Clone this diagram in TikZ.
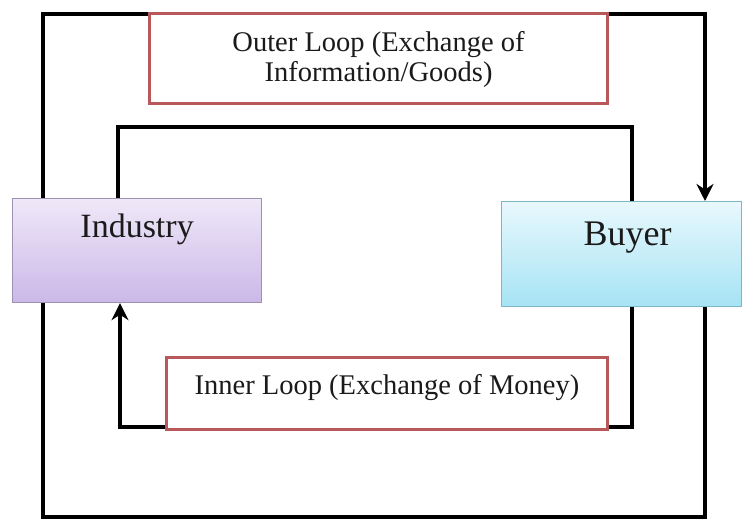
\documentclass[tikz,border=0pt]{standalone}
\usepackage{fontspec}
\setmainfont{Liberation Serif}
\usetikzlibrary{arrows.meta}
\definecolor{redline}{HTML}{B9585A}
\definecolor{txt}{HTML}{1A1A1A}
\definecolor{indtop}{HTML}{EFE8F8}
\definecolor{indbot}{HTML}{CBB8E8}
\definecolor{indedge}{HTML}{9C92B4}
\definecolor{buytop}{HTML}{E8F8FD}
\definecolor{buybot}{HTML}{A6E3F4}
\definecolor{buyedge}{HTML}{7DB7C6}
\tikzset{
  conn/.style={line width=4pt, black, line join=miter},
  tip/.style={-{Stealth[length=17pt,width=17pt]}},
  labelbox/.style={draw=redline, line width=3pt, fill=white, anchor=north west, inner sep=0pt, align=center, text=txt, font=\fontsize{28.5}{30}\selectfont},
  partybox/.style={anchor=north west, inner sep=0pt, line width=1.2pt, text=txt}
}
\begin{document}
\begin{tikzpicture}[x=1pt,y=-1pt]
\useasboundingbox (0,0) rectangle (742,521);
% parties
\node[partybox, draw=indedge, top color=indtop, bottom color=indbot,
  minimum width=249pt, minimum height=104pt, text height=22pt, text depth=48pt,
  font=\fontsize{34}{36}\selectfont] (industry) at (12,198) {Industry};
\node[partybox, draw=buyedge, top color=buytop, bottom color=buybot,
  minimum width=240pt, minimum height=105pt, text height=24pt, text depth=41pt,
  font=\fontsize{36}{40}\selectfont] (buyer) at (501,201) {\hspace*{12pt}Buyer};
% loop corners
\coordinate (ol) at (43,14);
\coordinate (or) at (705,14);
\coordinate (bl) at (43,517);
\coordinate (br) at (705,517);
\coordinate (il) at (118,127);
\coordinate (ir) at (632,127);
\coordinate (jl) at (120,427);
\coordinate (jr) at (632,427);
% outer loop
\draw[conn,tip] (industry.north -| ol) -- (ol) -- (or) -- (buyer.north -| or);
\draw[conn] (industry.south -| bl) -- (bl) -- (br) -- (buyer.south -| br);
% inner loop
\draw[conn] (industry.north -| il) -- (il) -- (ir) -- (buyer.north -| ir);
\draw[conn,tip] (buyer.south -| jr) -- (jr) -- (jl) -- (industry.south -| jl);
% labels
\node[labelbox, minimum width=458pt, minimum height=90pt, text height=49pt, text depth=3pt]
  (outer) at (148,12) {Outer Loop (Exchange of\\Information/Goods)};
\node[labelbox, minimum width=441pt, minimum height=72pt, text height=19pt, text depth=17pt]
  (inner) at (165,356) {Inner Loop (Exchange of Money)};
\end{tikzpicture}
\end{document}
